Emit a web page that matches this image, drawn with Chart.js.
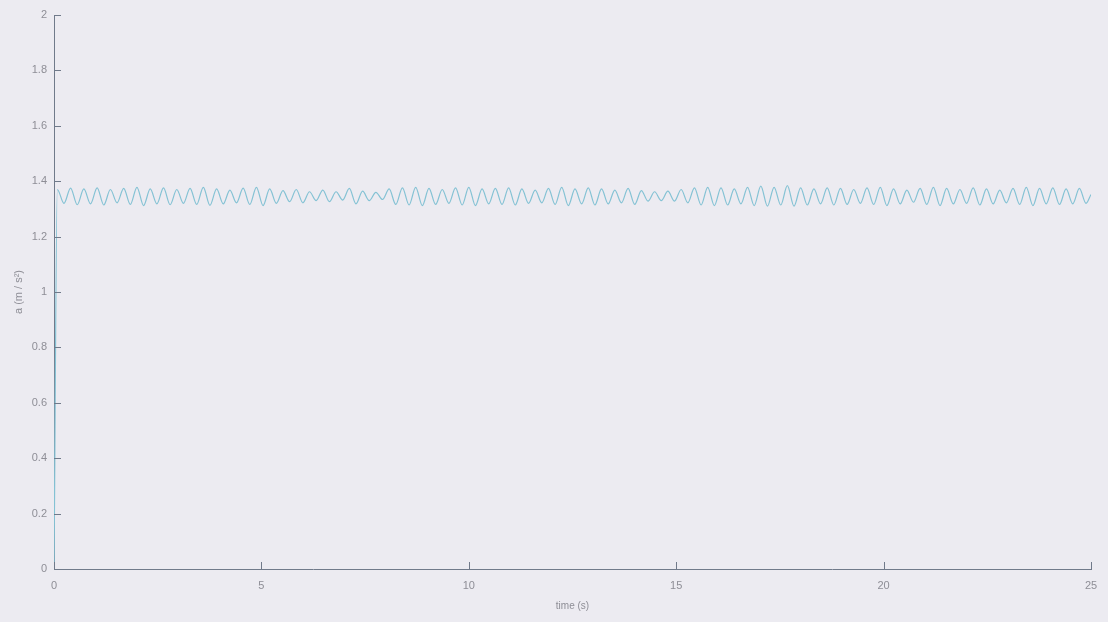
<!DOCTYPE html>
<html>
<head>
<meta charset="utf-8">
<script src="https://cdn.jsdelivr.net/npm/chart.js@4"></script>
<style>
  html, body { margin: 0; padding: 0; background: #ecebf1; }
  #wrap { width: 1108px; height: 622px; }
</style>
</head>
<body>
<div id="wrap"><canvas id="myChart" width="1108" height="622"></canvas></div>
<script>
const ctx = document.querySelector("#myChart").getContext("2d");

// time samples (s): start, then peaks / troughs
const times = [
    0,
    0.08, 0.24, 0.40, 0.56, 0.72, 0.88, 1.04, 1.20, 1.36, 1.52,
    1.68, 1.84, 2.00, 2.16, 2.32, 2.48, 2.64, 2.80, 2.96, 3.12,
    3.28, 3.44, 3.60, 3.76, 3.92, 4.08, 4.24, 4.40, 4.56, 4.72,
    4.88, 5.04, 5.20, 5.36, 5.52, 5.68, 5.84, 6.00, 6.16, 6.32,
    6.48, 6.64, 6.80, 6.96, 7.12, 7.28, 7.44, 7.60, 7.76, 7.92,
    8.08, 8.24, 8.40, 8.56, 8.72, 8.88, 9.04, 9.20, 9.36, 9.52,
    9.68, 9.84, 10.00, 10.16, 10.32, 10.48, 10.64, 10.80, 10.96, 11.12,
    11.28, 11.44, 11.60, 11.76, 11.92, 12.08, 12.24, 12.40, 12.56, 12.72,
    12.88, 13.04, 13.20, 13.36, 13.52, 13.68, 13.84, 14.00, 14.16, 14.32,
    14.48, 14.64, 14.80, 14.96, 15.12, 15.28, 15.44, 15.60, 15.76, 15.92,
    16.08, 16.24, 16.40, 16.56, 16.72, 16.88, 17.04, 17.20, 17.36, 17.52,
    17.68, 17.84, 18.00, 18.16, 18.32, 18.48, 18.64, 18.80, 18.96, 19.12,
    19.28, 19.44, 19.60, 19.76, 19.92, 20.08, 20.24, 20.40, 20.56, 20.72,
    20.88, 21.04, 21.20, 21.36, 21.52, 21.68, 21.84, 22.00, 22.16, 22.32,
    22.48, 22.64, 22.80, 22.96, 23.12, 23.28, 23.44, 23.60, 23.76, 23.92,
    24.08, 24.24, 24.40, 24.56, 24.72, 24.88, 25.00,
];

// acceleration a (m/s^2)
const accel = [
    0,
    1.370, 1.320, 1.375, 1.315, 1.372, 1.318, 1.376, 1.314, 1.370, 1.322,
    1.374, 1.316, 1.378, 1.312, 1.372, 1.318, 1.376, 1.315, 1.370, 1.320,
    1.374, 1.316, 1.378, 1.313, 1.372, 1.318, 1.368, 1.322, 1.375, 1.316,
    1.378, 1.312, 1.372, 1.320, 1.366, 1.326, 1.370, 1.322, 1.362, 1.330,
    1.368, 1.326, 1.362, 1.332, 1.374, 1.318, 1.364, 1.330, 1.360, 1.334,
    1.372, 1.316, 1.376, 1.314, 1.378, 1.312, 1.374, 1.316, 1.370, 1.320,
    1.376, 1.314, 1.378, 1.312, 1.372, 1.318, 1.374, 1.316, 1.376, 1.314,
    1.372, 1.320, 1.368, 1.322, 1.374, 1.316, 1.378, 1.312, 1.372, 1.318,
    1.376, 1.314, 1.372, 1.318, 1.368, 1.322, 1.374, 1.316, 1.366, 1.328,
    1.362, 1.330, 1.364, 1.328, 1.370, 1.322, 1.376, 1.314, 1.378, 1.312,
    1.376, 1.314, 1.372, 1.318, 1.378, 1.312, 1.382, 1.310, 1.378, 1.314,
    1.384, 1.310, 1.376, 1.314, 1.372, 1.318, 1.376, 1.314, 1.374, 1.316,
    1.370, 1.320, 1.376, 1.316, 1.378, 1.312, 1.372, 1.318, 1.368, 1.324,
    1.374, 1.316, 1.378, 1.312, 1.374, 1.318, 1.370, 1.320, 1.376, 1.314,
    1.372, 1.318, 1.368, 1.322, 1.374, 1.316, 1.378, 1.312, 1.374, 1.318,
    1.376, 1.316, 1.372, 1.318, 1.374, 1.320, 1.352,
];

const xTicks = [0, 5, 10, 15, 20, 25];
const yTicks = [0, 0.2, 0.4, 0.6, 0.8, 1, 1.2, 1.4, 1.6, 1.8, 2];

const axisColor = "#707a8a";
const labelColor = "#8e8e96";
const font = { family: "'Liberation Sans', Arial, sans-serif", size: 11 };

// MATLAB style ticks that point into the plot
const inwardTicks = {
    id: "inwardTicks",
    afterDatasetsDraw(chart) {
        const c = chart.ctx;
        const area = chart.chartArea;
        const x = chart.scales.x;
        const y = chart.scales.y;
        c.save();
        c.strokeStyle = axisColor;
        c.lineWidth = 1;
        xTicks.forEach((v) => {
            const px = Math.round(x.getPixelForValue(v)) + 0.5;
            c.beginPath();
            c.moveTo(px, area.bottom);
            c.lineTo(px, area.bottom - 7);
            c.stroke();
        });
        yTicks.forEach((v) => {
            const py = Math.round(y.getPixelForValue(v)) + 0.5;
            c.beginPath();
            c.moveTo(area.left, py);
            c.lineTo(area.left + 7, py);
            c.stroke();
        });
        c.restore();
    }
};

const data = {
    datasets: [{
        data: times.map((t, i) => ({ x: t, y: accel[i] })),
        borderColor: "#84c2d4",
        borderWidth: 1.2,
        pointRadius: 0,
        cubicInterpolationMode: "monotone",
        fill: false,
    }]
};

const config = {
    type: "line",
    data: data,
    plugins: [inwardTicks],
    options: {
        responsive: false,
        animation: false,
        layout: { padding: { top: 15, right: 17, left: 0, bottom: 0 } },
        plugins: {
            legend: { display: false },
            tooltip: { enabled: false },
        },
        scales: {
            x: {
                type: "linear",
                min: 0,
                max: 25,
                afterFit: (scale) => { scale.height = 53; },
                afterBuildTicks: (scale) => { scale.ticks = xTicks.map((v) => ({ value: v })); },
                grid: { display: false, drawTicks: false },
                border: { display: true, color: axisColor, width: 1 },
                ticks: { color: labelColor, font: font, padding: 10, maxRotation: 0 },
                title: { display: true, text: "time (s)", color: labelColor, font: { family: font.family, size: 10 }, padding: { top: 4, bottom: 10 } },
            },
            y: {
                min: 0,
                max: 2,
                afterFit: (scale) => { scale.width = 54; },
                afterBuildTicks: (scale) => { scale.ticks = yTicks.map((v) => ({ value: v })); },
                grid: { display: false, drawTicks: false },
                border: { display: true, color: axisColor, width: 1 },
                ticks: {
                    color: labelColor,
                    font: font,
                    padding: 7,
                    callback: (value) => String(Number(value.toFixed(1))),
                },
                title: { display: true, text: "a (m / s\u00b2)", color: labelColor, font: { family: font.family, size: 11 }, padding: { top: 12, bottom: 4 } },
            }
        }
    }
};

const myChart = new Chart(ctx, config);
</script>
</body>
</html>
